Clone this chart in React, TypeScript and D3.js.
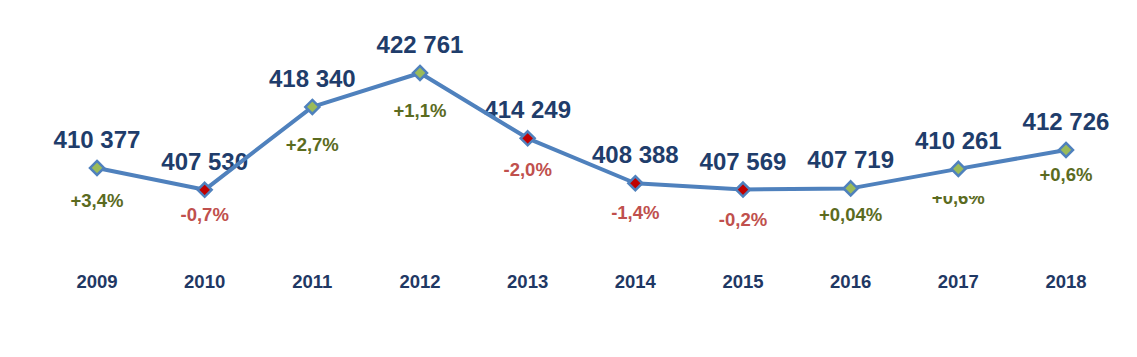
import React from "react";
import * as d3 from "d3";

const years = ["2009", "2010", "2011", "2012", "2013", "2014", "2015", "2016", "2017", "2018"];
const values = [410377, 407530, 418340, 422761, 414249, 408388, 407569, 407719, 410261, 412726];
const valueLabels = ["410 377", "407 530", "418 340", "422 761", "414 249", "408 388", "407 569", "407 719", "410 261", "412 726"];
const changeLabels = ["+3,4%", "-0,7%", "+2,7%", "+1,1%", "-2,0%", "-1,4%", "-0,2%", "+0,04%", "+0,6%", "+0,6%"];
const changeDy = [39, 31, 44, 44, 38, 36, 36, 33, 35, 31];

const W = 1137;
const H = 357;

export default function App() {
  const x = d3.scalePoint<string>().domain(years).range([97, 1066]);
  const y = d3.scaleLinear().domain([400000, 425000]).range([247.6, 55.8]);
  const line = d3
    .line<number>()
    .x((_, i) => x(years[i]) as number)
    .y((d) => y(d));
  const font = "'Liberation Sans', Arial, sans-serif";
  const green = "#5B6B1F";
  const red = "#C0504D";
  return (
    <svg width={W} height={H} style={{ position: "absolute", left: 0, top: 0, background: "#fff" }}>
      <defs>
        <clipPath id="clip2017" clipPathUnits="userSpaceOnUse">
          <rect x={900} y={196} width={120} height={30} />
        </clipPath>
      </defs>
      {values.map((v, i) => (
        <text
          key={"v" + years[i]}
          x={x(years[i]) as number}
          y={y(v) - 20}
          textAnchor="middle"
          fontFamily={font}
          fontWeight="bold"
          fontSize={24}
          fill="#1F3D6B"
        >
          {valueLabels[i]}
        </text>
      ))}
      <path d={line(values) || ""} fill="none" stroke="#4F81BD" strokeWidth={4} strokeLinejoin="round" />
      {values.map((v, i) => {
        const cx = x(years[i]) as number;
        const cy = y(v);
        const neg = changeLabels[i].startsWith("-");
        const s = 7;
        return (
          <g key={years[i]}>
            <path
              d={`M${cx},${cy - s}L${cx + s},${cy}L${cx},${cy + s}L${cx - s},${cy}Z`}
              fill={neg ? "#C00000" : "#9BBB59"}
              stroke="#4F81BD"
              strokeWidth={2.5}
            />
            <g clipPath={years[i] === "2017" ? "url(#clip2017)" : undefined}>
              <text
                x={cx}
                y={cy + changeDy[i]}
                textAnchor="middle"
                fontFamily={font}
                fontWeight="bold"
                fontSize={18.5}
                fill={neg ? red : green}
              >
                {changeLabels[i]}
              </text>
            </g>
            <text
              x={cx}
              y={288}
              textAnchor="middle"
              fontFamily={font}
              fontWeight="bold"
              fontSize={18.5}
              fill="#1F3864"
            >
              {years[i]}
            </text>
          </g>
        );
      })}
    </svg>
  );
}
